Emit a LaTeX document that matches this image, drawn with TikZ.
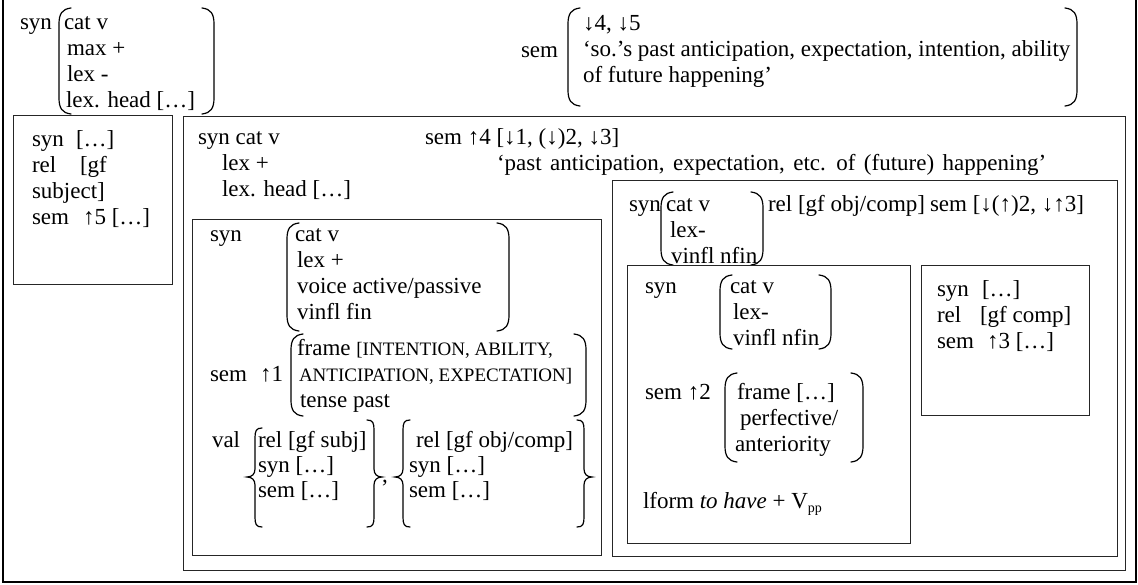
\documentclass[tikz,border=0pt]{standalone}
\usepackage{fontspec}
\setmainfont{Liberation Serif}
\newcommand\lbrkt[3]{\draw[brk] ({#1+12},#2) .. controls ({#1+3},{#2+1}) and (#1,{#2+6}) .. (#1,{#2+16}) -- (#1,{#3-16}) .. controls (#1,{#3-6}) and ({#1+3},{#3-1}) .. ({#1+12},#3);}
\newcommand\rbrkt[3]{\draw[brk] ({#1-12},#2) .. controls ({#1-3},{#2+1}) and (#1,{#2+6}) .. (#1,{#2+16}) -- (#1,{#3-16}) .. controls (#1,{#3-6}) and ({#1-3},{#3-1}) .. ({#1-12},#3);}
\newcommand\lcurly[4]{\draw[brk] ({#1+7},#2) .. controls ({#1+1},#2) and (#1,{#2+3}) .. (#1,{#2+10}) -- (#1,{#3-8}) .. controls (#1,{#3-3}) and ({#1-3},#3) .. ({#1-8},#3) .. controls ({#1-3},#3) and (#1,{#3+3}) .. (#1,{#3+8}) -- (#1,{#4-10}) .. controls (#1,{#4-3}) and ({#1+1},#4) .. ({#1+7},#4);}
\newcommand\rcurly[4]{\draw[brk] ({#1-7},#2) .. controls ({#1-1},#2) and (#1,{#2+3}) .. (#1,{#2+10}) -- (#1,{#3-8}) .. controls (#1,{#3-3}) and ({#1+3},#3) .. ({#1+8},#3) .. controls ({#1+3},#3) and (#1,{#3+3}) .. (#1,{#3+8}) -- (#1,{#4-10}) .. controls (#1,{#4-3}) and ({#1-1},#4) .. ({#1-7},#4);}
\newcommand\smallcaps{\fontsize{19}{20}\selectfont}
\begin{document}
\begin{tikzpicture}[x=1pt,y=-1pt,font=\fontsize{23}{26}\selectfont,
  t/.style={anchor=base west,inner sep=0pt,outer sep=0pt},
  box/.style={draw=black!85,line width=0.8pt},
  brk/.style={line width=1.2pt,line cap=round}]
\useasboundingbox (0,0) rectangle (1138,584);
% outer frame
\draw[line width=1.1pt] (3,0) -- (3,582) (1136,582) -- (1136,0);
\draw[line width=2.5pt] (2,582) -- (1137,582);
% top-left syn
\node[t] (s0) at (20,29) {syn};
\node[t] (s0a) at (64,29) {cat v};
\node[t] (s0b) at (67,55) {max +};
\node[t] (s0c) at (67,81) {lex -};
\node[t] (s0d) at (66,107) {lex. head […]};
\lbrkt{59}{8}{114}
\rbrkt{214}{8}{114}
% top-right sem
\node[t] (m0) at (521,57) {sem};
\node[t] (m0a) at (583,30) {↓4, ↓5};
\node[t] (m0b) at (583,56) {‘so.’s past anticipation, expectation, intention, ability};
\node[t] (m0c) at (583,82) {of future happening’};
\lbrkt{568}{8}{106}
\rbrkt{1077}{8}{106}
% left box
\draw[box] (13,115) rectangle (172,284);
\node[t] (l1) at (32,146) {syn};
\node[t] (l1b) at (76,146) {[…]};
\node[t] (l2) at (32,172) {rel};
\node[t] (l2b) at (80,172) {[gf};
\node[t] (l3) at (32,198) {subject]};
\node[t] (l4) at (32,224) {sem};
\node[t] (l4b) at (83,224) {↑5 […]};
% big box
\draw[box] (183,116) rectangle (1125,570);
\node[t] (b1) at (198,144) {syn cat v};
\node[t] (b2) at (222,170) {lex +};
\node[t] (b3) at (222,196) {lex. head […]};
\node[t] (b4) at (425,144) {sem ↑4 [↓1, (↓)2, ↓3]};
\node[t] (b5) at (497,170) {\spaceskip=8.5pt ‘past anticipation, expectation, etc. of (future) happening’};
% val box
\draw[box] (192,219) rectangle (601,555);
\node[t] (v1) at (210,241) {syn};
\node[t] (v1a) at (295,241) {cat v};
\node[t] (v1b) at (297,267) {lex +};
\node[t] (v1c) at (297,293) {voice active/passive};
\node[t] (v1d) at (297,319) {vinfl fin};
\lbrkt{287}{223}{331}
\rbrkt{509}{223}{331}
\node[t] (v2) at (210,381) {sem};
\node[t] (v2b) at (260,381) {↑1};
\node[t] (v2c) at (297,355) {frame {\smallcaps [INTENTION, ABILITY,}};
\node[t] (v2d) at (299,381) {\smallcaps ANTICIPATION, EXPECTATION]};
\node[t] (v2e) at (300,407) {tense past};
\lbrkt{291}{334}{416}
\rbrkt{586}{334}{416}
\node[t] (v3) at (212,447) {val};
\lcurly{255}{428}{477}{527}
\node[t] (v3a) at (258,447) {rel [gf subj]};
\node[t] (v3b) at (258,472) {syn […]};
\node[t] (v3c) at (258,497) {sem […]};
\rcurly{374}{420}{477}{527}
\node[t] (cm) at (382,482) {,};
\lcurly{403}{420}{477}{527}
\node[t] (v4a) at (416,447) {rel [gf obj/comp]};
\node[t] (v4b) at (409,472) {syn […]};
\node[t] (v4c) at (409,497) {sem […]};
\rcurly{584}{420}{477}{527}
% obj box
\draw[box,fill=white] (612,180) rectangle (1117,556);
\node[t] (o1) at (629,211) {syn};
\node[t] (o1a) at (666,211) {cat v};
\node[t] (o1b) at (670,237) {lex-};
\node[t] (o1c) at (671,263) {vinfl nfin};
\lbrkt{661}{192}{265}
\rbrkt{763}{192}{265}
\node[t] (o2) at (768,211) {rel [gf obj/comp]};
\node[t] (o3) at (930,211) {sem [↓(↑)2, ↓↑3]};
% lform box
\draw[box,fill=white] (627,265) rectangle (910,543);
\node[t] (f1) at (645,293) {syn};
\node[t] (f1a) at (730,293) {cat v};
\node[t] (f1b) at (733,319) {lex-};
\node[t] (f1c) at (733,345) {vinfl nfin};
\lbrkt{720}{275}{349}
\rbrkt{831}{275}{349}
\node[t] (f2) at (645,399) {sem ↑2};
\node[t] (f2a) at (737,399) {frame […]};
\node[t] (f2b) at (740,425) {perfective/};
\node[t] (f2c) at (735,451) {anteriority};
\lbrkt{725}{373}{462}
\rbrkt{863}{373}{462}
\node[t] (f3) at (643,508) {lform \textit{to have} + V\raisebox{-4pt}{\fontsize{14}{14}\selectfont pp}};
% comp box
\draw[box] (921,265) rectangle (1089,415);
\node[t] (c1) at (937,296) {syn};
\node[t] (c1b) at (982,296) {[…]};
\node[t] (c2) at (937,322) {rel};
\node[t] (c2b) at (980,322) {[gf comp]};
\node[t] (c3) at (937,348) {sem};
\node[t] (c3b) at (987,348) {↑3 […]};
\end{tikzpicture}
\end{document}
